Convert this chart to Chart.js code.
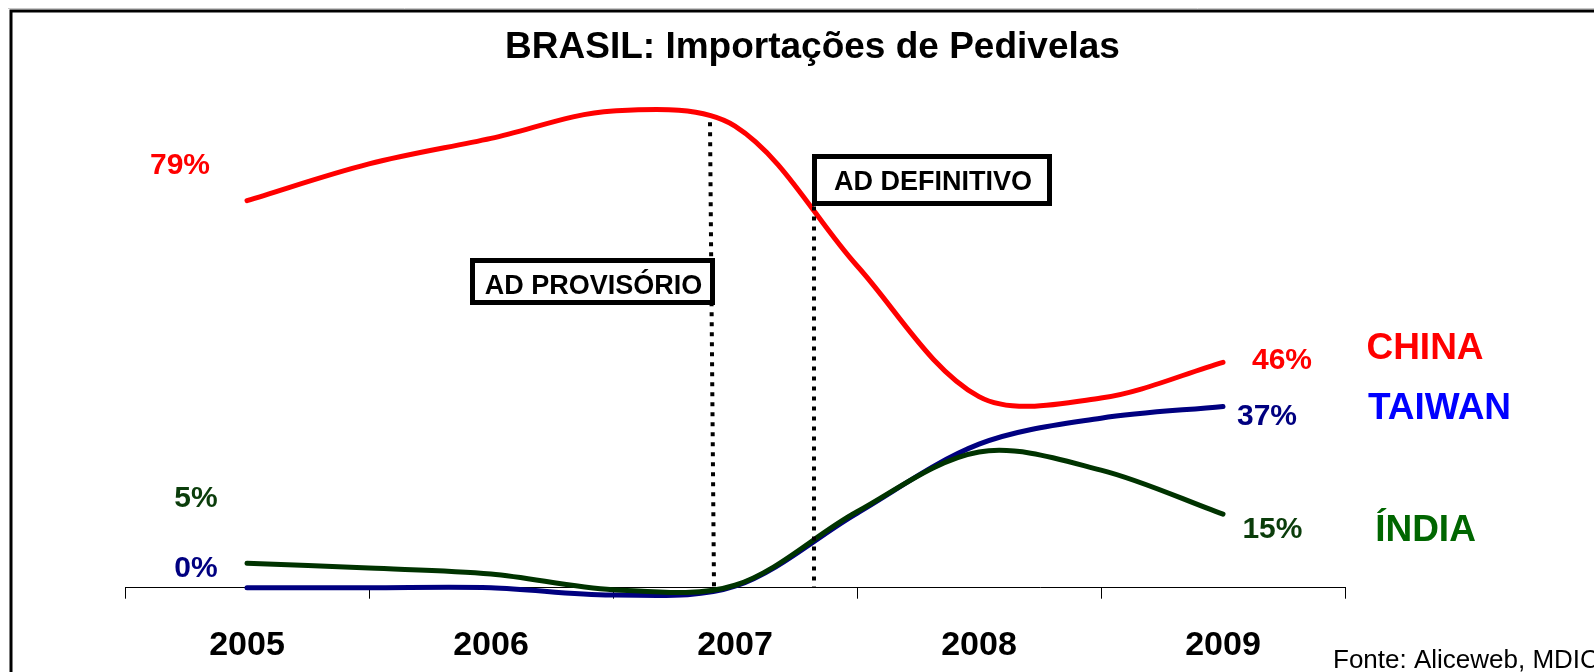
<!DOCTYPE html>
<html>
<head>
<meta charset="utf-8">
<script src="https://cdn.jsdelivr.net/npm/chart.js@4.4.1/dist/chart.umd.min.js"></script>
<style>
  html, body { margin: 0; padding: 0; background: #ffffff; }
  #wrap { position: relative; width: 1594px; height: 672px; }
</style>
</head>
<body>
<div id="wrap"><canvas id="c" width="1594" height="672"></canvas></div>
<script>
// ---- data (share of Brazilian imports, %) ----
const periods = [2005, 2005.5, 2006, 2006.5, 2007, 2007.5, 2008, 2008.5, 2009];
const china  = [79, 86.5, 91.7, 97.3, 94.2, 65.7, 39.0, 38.7, 46];
const taiwan = [0, 0, 0, -1.5, 0.3, 15.2, 29.3, 34.6, 37];
const india  = [5, 4.0, 2.8, -0.4, 0.5, 15.5, 27.7, 24.0, 15];
const yearTicks = [2005, 2006, 2007, 2008, 2009];
const yearLabels = ['2005', '2006', '2007', '2008', '2009'];
const gridTicks = [2004.5, 2005.5, 2006.5, 2007.5, 2008.5, 2009.5];
const adProvisorio = 2006.91;
const adDefinitivo = 2007.324;

const FONT = '"Liberation Sans", Arial, Helvetica, sans-serif';

function pts(vals) { return periods.map((p, i) => ({ x: p, y: vals[i] })); }

function capText(ctx, txt, x, yCap, size, weight, color, align) {
  ctx.font = weight + ' ' + size + 'px ' + FONT;
  ctx.fillStyle = color;
  ctx.textAlign = align || 'center';
  ctx.textBaseline = 'alphabetic';
  ctx.fillText(txt, x, yCap + 0.358 * size);
}

const decor = {
  id: 'decor',
  afterDatasetsDraw(chart) {
    const ctx = chart.ctx;
    const xs = chart.scales.x, ys = chart.scales.y;
    ctx.save();
    // dotted vertical markers
    ctx.strokeStyle = '#000';
    ctx.lineWidth = 4;
    ctx.setLineDash([4, 6]);
    ctx.beginPath();
    ctx.moveTo(Math.round(xs.getPixelForValue(adProvisorio - 0.012)), ys.getPixelForValue(95));
    ctx.lineTo(Math.round(xs.getPixelForValue(adProvisorio + 0.004)), ys.getPixelForValue(0));
    ctx.moveTo(Math.round(xs.getPixelForValue(adDefinitivo)), ys.getPixelForValue(77.8));
    ctx.lineTo(Math.round(xs.getPixelForValue(adDefinitivo)), ys.getPixelForValue(0));
    ctx.stroke();
    ctx.setLineDash([]);
    ctx.restore();
  },
  afterDraw(chart) {
    const ctx = chart.ctx;
    ctx.save();
    // outer frame
    ctx.strokeStyle = '#c8c8c8';
    ctx.lineWidth = 1;
    ctx.beginPath();
    ctx.moveTo(8, 8.5); ctx.lineTo(1594, 8.5);
    ctx.stroke();
    ctx.strokeStyle = '#000';
    ctx.lineWidth = 3;
    ctx.beginPath();
    ctx.moveTo(11, 700); ctx.lineTo(11, 11); ctx.lineTo(1600, 11);
    ctx.stroke();

    // title
    capText(ctx, 'BRASIL: Importações de Pedivelas', 812.5, 44.5, 37, 'bold', '#000');

    // boxes
    ctx.fillStyle = '#fff';
    ctx.fillRect(472.5, 260.5, 240, 42);
    ctx.fillRect(814.5, 156.5, 235, 47);
    ctx.strokeStyle = '#000';
    ctx.lineWidth = 5;
    ctx.strokeRect(472.5, 260.5, 240, 42);
    ctx.strokeRect(814.5, 156.5, 235, 47);
    capText(ctx, 'AD PROVISÓRIO', 593.5, 284.5, 27, 'bold', '#000');
    capText(ctx, 'AD DEFINITIVO', 933, 180, 27, 'bold', '#000');

    // value labels
    capText(ctx, '79%', 180, 163, 30, 'bold', '#ff0000');
    capText(ctx, '5%', 196, 496.3, 30, 'bold', '#0b3d0b');
    capText(ctx, '0%', 196, 566.3, 30, 'bold', '#000080');
    capText(ctx, '46%', 1282, 358, 30, 'bold', '#ff0000');
    capText(ctx, '37%', 1267, 414, 30, 'bold', '#000080');
    capText(ctx, '15%', 1272.4, 527, 30, 'bold', '#0b3d0b');

    // series names
    capText(ctx, 'CHINA', 1425, 345.5, 37, 'bold', '#ff0000');
    capText(ctx, 'TAIWAN', 1439.5, 406, 37, 'bold', '#0000ff');
    capText(ctx, 'ÍNDIA', 1425.5, 528, 37, 'bold', '#006600');

    // source
    ctx.font = 'normal 26px ' + FONT;
    ctx.fillStyle = '#000';
    ctx.textAlign = 'left';
    ctx.textBaseline = 'alphabetic';
    ctx.fillText('Fonte: Aliceweb, MDIC', 1333, 668);
    ctx.restore();
  }
};

const lineCommon = {
  pointRadius: 0,
  borderWidth: 5,
  tension: 0.33,
  fill: false,
  clip: false,
  borderCapStyle: 'round',
  borderJoinStyle: 'round'
};

new Chart(document.getElementById('c'), {
  type: 'line',
  data: {
    datasets: [
      Object.assign({ label: 'ÍNDIA', data: pts(india), borderColor: '#003300', order: 0 }, lineCommon),
      Object.assign({ label: 'CHINA', data: pts(china), borderColor: '#ff0000', order: 1 }, lineCommon),
      Object.assign({ label: 'TAIWAN', data: pts(taiwan), borderColor: '#000080', order: 2 }, lineCommon)
    ]
  },
  options: {
    responsive: false,
    animation: false,
    devicePixelRatio: 1,
    layout: { padding: { left: 125, right: 249, top: 97.7, bottom: 0 } },
    plugins: { legend: { display: false }, tooltip: { enabled: false }, title: { display: false } },
    scales: {
      x: {
        type: 'linear',
        position: 'bottom',
        weight: 0,
        min: 2004.5,
        max: 2009.5,
        afterBuildTicks: (s) => { s.ticks = gridTicks.map(v => ({ value: v })); },
        grid: { display: true, drawOnChartArea: false, drawTicks: true, tickLength: 11, color: '#000', lineWidth: 1 },
        border: { display: true, color: '#000', width: 1 },
        ticks: { display: false }
      },
      xl: {
        type: 'linear',
        position: 'bottom',
        weight: 1,
        min: 2004.5,
        max: 2009.5,
        afterBuildTicks: (s) => { s.ticks = yearTicks.map(v => ({ value: v })); },
        afterFit: (s) => { s.height = 672 - 587.7 - 11; },
        grid: { display: false },
        border: { display: false },
        ticks: {
          autoSkip: false,
          maxRotation: 0,
          padding: 19,
          color: '#000',
          font: { family: FONT, size: 34, weight: 'bold' },
          callback: (v) => { const i = yearTicks.indexOf(v); return i >= 0 ? yearLabels[i] : ''; }
        }
      },
      y: {
        display: false,
        min: 0,
        max: 100
      }
    }
  },
  plugins: [decor]
});
</script>
</body>
</html>
